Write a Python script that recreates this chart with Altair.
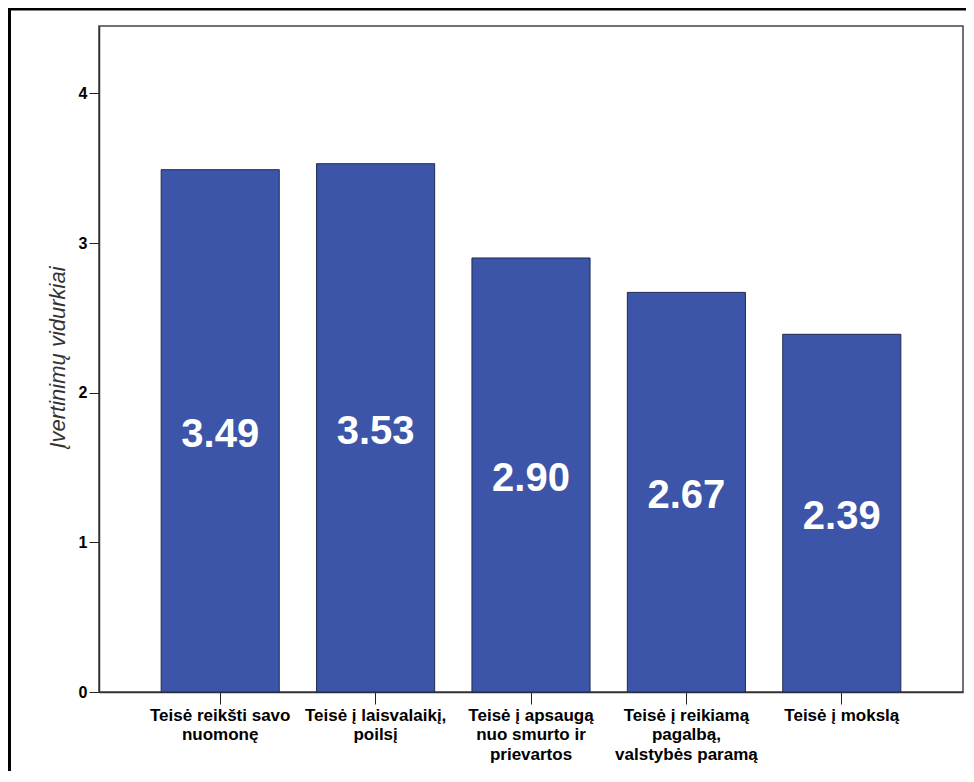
import altair as alt
import pandas as pd

categories = [
    "Teisė reikšti savo\nnuomonę",
    "Teisė į laisvalaikį,\npoilsį",
    "Teisė į apsaugą\nnuo smurto ir\nprievartos",
    "Teisė į reikiamą\npagalbą,\nvalstybės paramą",
    "Teisė į mokslą",
]
values = [3.49, 3.53, 2.90, 2.67, 2.39]
y_ticks = [0, 1, 2, 3, 4]

df = pd.DataFrame({"cat": categories, "val": values})
df["half"] = df["val"] / 2
df["lbl"] = df["val"].map(lambda v: f"{v:.2f}")

FONT = "Liberation Sans"

x_enc = alt.X(
    "cat:N",
    sort=categories,
    scale=alt.Scale(paddingInner=0.24, paddingOuter=0.4),
    axis=alt.Axis(
        title=None,
        labelAngle=0,
        labelExpr="split(datum.label, '\\n')",
        labelFont=FONT,
        labelFontWeight="bold",
        labelFontSize=17,
        labelLineHeight=19.5,
        labelColor="#000000",
        labelBaseline="top",
        labelPadding=3,
        tickSize=12,
        tickColor="#222222",
        domainColor="#333333",
        domainWidth=1.5,
        labelLimit=300,
    ),
)

bars = alt.Chart(df).mark_bar(
    color="#3D55A8", stroke="#1e2a50", strokeWidth=1
).encode(
    x=x_enc,
    y=alt.Y(
        "val:Q",
        scale=alt.Scale(domain=[0, 4.45], nice=False),
        axis=alt.Axis(
            title="Įvertinimų vidurkiai",
            values=y_ticks,
            format="d",
            grid=False,
            labelFont=FONT,
            labelFontWeight="bold",
            labelFontSize=16,
            labelColor="#000000",
            labelPadding=2,
            tickSize=10,
            tickColor="#222222",
            domainColor="#333333",
            domainWidth=1.5,
            titleFont=FONT,
            titleFontStyle="italic",
            titleFontWeight="normal",
            titleFontSize=22,
            titleColor="#333333",
            titleAngle=270,
            titleAlign="center",
            titleBaseline="alphabetic",
            titleX=-35,
            titleY=331,
        ),
    ),
)

labels = alt.Chart(df).mark_text(
    font=FONT, fontWeight="bold", fontSize=40, color="white",
    baseline="middle", dy=4
).encode(
    x=alt.X("cat:N", sort=categories),
    y=alt.Y("half:Q"),
    text="lbl:N",
)

border_data = alt.Data(values=[{"k": 1}])
top_border = alt.Chart(border_data).mark_rule(color="#000000", strokeWidth=3).encode(
    x=alt.value(-91), x2=alt.value(870), y=alt.value(-17)
)
left_border = alt.Chart(border_data).mark_rule(color="#000000", strokeWidth=3).encode(
    x=alt.value(-89.5), y=alt.value(-18), y2=alt.value(745)
)

chart = alt.layer(bars, labels, top_border, left_border).properties(
    width=864,
    height=666,
    autosize=alt.AutoSizeParams(type="none"),
    padding={"left": 91, "top": 18, "right": 3, "bottom": 82},
).configure(
    background="white"
).configure_view(
    stroke="#444444", strokeWidth=1.5
)

chart.save("out.html", embed_options={"renderer": "svg", "actions": False})
